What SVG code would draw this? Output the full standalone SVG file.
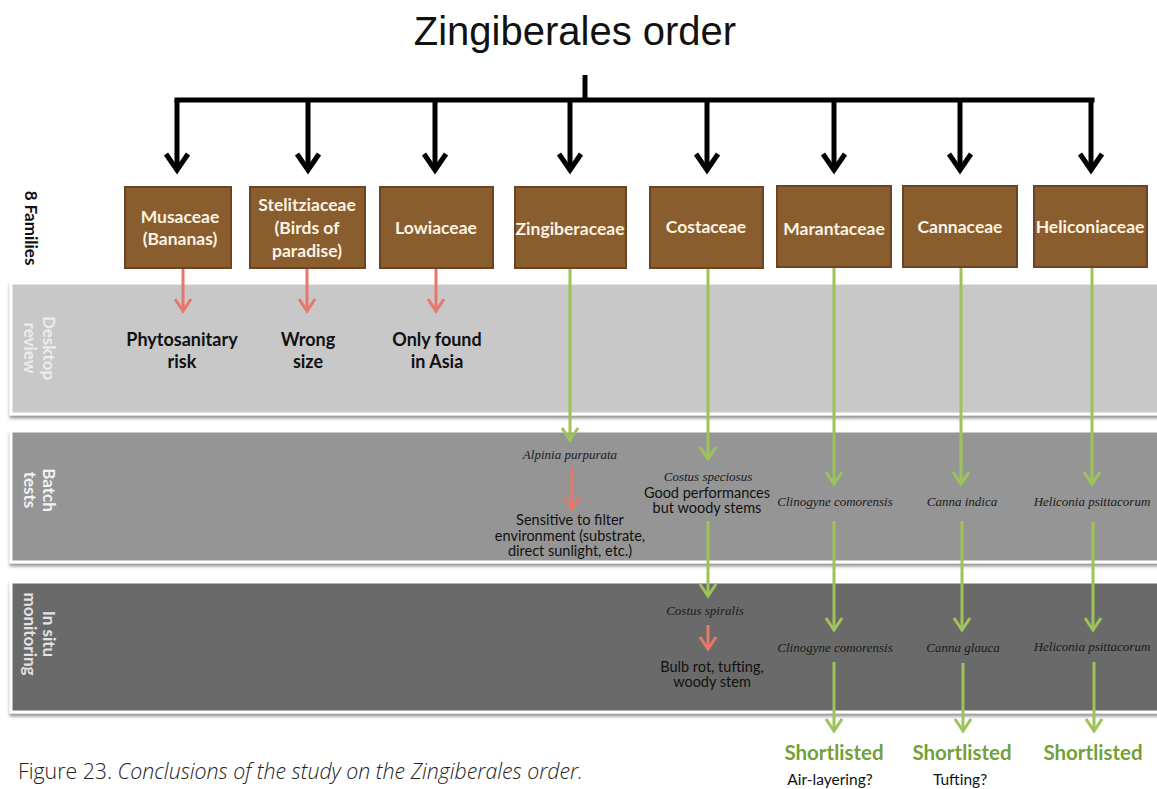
<svg xmlns="http://www.w3.org/2000/svg" width="1157" height="789" viewBox="0 0 1157 789">
<defs>
<style>
.title{font-family:"Liberation Sans",Arial,sans-serif;font-size:40px;fill:#111}
.box{fill:#8a5d2f;stroke:#6c4421;stroke-width:2}
.bt{font-family:Lato,"Open Sans",sans-serif;font-weight:700;font-size:17.5px;fill:#fbf4e4;text-anchor:middle}
.rej{font-family:Lato,"Open Sans",sans-serif;font-weight:700;font-size:18px;fill:#111;text-anchor:middle}
.sp{font-family:"Liberation Serif","Times New Roman",serif;font-style:italic;font-size:13px;fill:#1a1a1a;text-anchor:middle}
.desc{font-family:Lato,"Open Sans",sans-serif;font-size:14.5px;fill:#111;text-anchor:middle}
.band{stroke:#ffffff;stroke-width:3}
.bl{font-family:Lato,"Open Sans",sans-serif;font-weight:700;font-size:17px;text-anchor:middle}
.fam{font-family:Lato,"Open Sans",sans-serif;font-weight:700;font-size:17px;fill:#111;text-anchor:middle}
.blk{fill:none;stroke:#000;stroke-width:5}
.grn{fill:none;stroke:#9dc35a;stroke-width:3}
.red{fill:none;stroke:#e5786a;stroke-width:3}
.sl{font-family:Lato,"Open Sans",sans-serif;font-weight:700;font-size:20.5px;fill:#74a03a;text-anchor:middle}
.q{font-family:Lato,"Open Sans",sans-serif;font-size:15.5px;fill:#111;text-anchor:middle}
.cap{font-family:"Open Sans",Lato,sans-serif;font-weight:300;font-size:21.3px;fill:#222}
</style>
<marker id="ab" markerUnits="userSpaceOnUse" orient="auto" refX="0" refY="0" markerWidth="20" markerHeight="30" overflow="visible">
<polyline points="-16,-11 0,0 -16,11" fill="none" stroke="#000" stroke-width="5"/>
</marker>
<marker id="ag" markerUnits="userSpaceOnUse" orient="auto" refX="0" refY="0" markerWidth="20" markerHeight="20" overflow="visible">
<polyline points="-12,-8 0,0 -12,8" fill="none" stroke="#9dc35a" stroke-width="3"/>
</marker>
<marker id="ar" markerUnits="userSpaceOnUse" orient="auto" refX="0" refY="0" markerWidth="20" markerHeight="20" overflow="visible">
<polyline points="-12,-8 0,0 -12,8" fill="none" stroke="#e5786a" stroke-width="3"/>
</marker>
<filter id="sh" x="-5%" y="-10%" width="110%" height="130%">
<feDropShadow dx="0" dy="3" stdDeviation="1.5" flood-color="#555" flood-opacity="0.6"/>
</filter>
</defs>
<rect width="1157" height="789" fill="#ffffff"/>

<text class="title" x="575" y="45" text-anchor="middle">Zingiberales order</text>

<g id="bands">
<rect class="band" x="11" y="283" width="1150" height="131" fill="#c8c8c8" filter="url(#sh)"/>
<rect class="band" x="11" y="431" width="1150" height="131" fill="#959595" filter="url(#sh)"/>
<rect class="band" x="11" y="582" width="1150" height="130" fill="#6a6a6a" filter="url(#sh)"/>
<text class="fam" transform="translate(31,228) rotate(90)" y="6">8 Families</text>
<text class="bl" fill="#ececec" transform="translate(38,348) rotate(90)"><tspan x="0" y="-5">Desktop</tspan><tspan x="0" y="14">review</tspan></text>
<text class="bl" fill="#f2f2f2" transform="translate(38,490) rotate(90)"><tspan x="0" y="-5">Batch</tspan><tspan x="0" y="14">tests</tspan></text>
<text class="bl" fill="#e2e2e2" transform="translate(38,634) rotate(90)"><tspan x="0" y="-5">In situ</tspan><tspan x="0" y="14">monitoring</tspan></text>
</g>

<g id="connectors">
<polyline class="blk" points="585,75 585,100"/>
<polyline class="blk" points="177,100 1092,100" stroke-linecap="square"/>
<line class="blk" x1="177" y1="100" x2="177" y2="170" marker-end="url(#ab)"/>
<line class="blk" x1="308" y1="100" x2="308" y2="170" marker-end="url(#ab)"/>
<line class="blk" x1="435" y1="100" x2="435" y2="170" marker-end="url(#ab)"/>
<line class="blk" x1="570" y1="100" x2="570" y2="170" marker-end="url(#ab)"/>
<line class="blk" x1="707" y1="100" x2="707" y2="170" marker-end="url(#ab)"/>
<line class="blk" x1="834" y1="100" x2="834" y2="170" marker-end="url(#ab)"/>
<line class="blk" x1="960" y1="100" x2="960" y2="170" marker-end="url(#ab)"/>
<line class="blk" x1="1091" y1="100" x2="1091" y2="170" marker-end="url(#ab)"/>

<line class="red" x1="183" y1="268" x2="183" y2="311" marker-end="url(#ar)"/>
<line class="red" x1="307" y1="268" x2="307" y2="311" marker-end="url(#ar)"/>
<line class="red" x1="436" y1="268" x2="436" y2="311" marker-end="url(#ar)"/>
<line class="red" x1="572" y1="468" x2="572" y2="509" marker-end="url(#ar)"/>
<line class="red" x1="708" y1="625" x2="708" y2="649" marker-end="url(#ar)"/>

<line class="grn" x1="570" y1="268" x2="570" y2="440" marker-end="url(#ag)"/>
<line class="grn" x1="708" y1="268" x2="708" y2="459" marker-end="url(#ag)"/>
<line class="grn" x1="708" y1="521" x2="708" y2="596" marker-end="url(#ag)"/>
<line class="grn" x1="834" y1="268" x2="834" y2="484" marker-end="url(#ag)"/>
<line class="grn" x1="834" y1="521" x2="834" y2="630" marker-end="url(#ag)"/>
<line class="grn" x1="834" y1="662" x2="834" y2="731" marker-end="url(#ag)"/>
<line class="grn" x1="961" y1="268" x2="961" y2="484" marker-end="url(#ag)"/>
<line class="grn" x1="962" y1="521" x2="962" y2="630" marker-end="url(#ag)"/>
<line class="grn" x1="963" y1="663" x2="963" y2="731" marker-end="url(#ag)"/>
<line class="grn" x1="1092" y1="268" x2="1092" y2="484" marker-end="url(#ag)"/>
<line class="grn" x1="1093" y1="522" x2="1093" y2="630" marker-end="url(#ag)"/>
<line class="grn" x1="1094" y1="662" x2="1094" y2="731" marker-end="url(#ag)"/>
</g>

<g id="musaceae"><rect class="box" x="125" y="187" width="106" height="81"/><text class="bt" x="178"><tspan x="180" y="223">Musaceae</tspan><tspan x="180" y="245">(Bananas)</tspan></text></g>
<g id="stelitziaceae"><rect class="box" x="250" y="187" width="115" height="81"/><text class="bt"><tspan x="307" y="211">Stelitziaceae</tspan><tspan x="307" y="234">(Birds of</tspan><tspan x="307" y="257">paradise)</tspan></text></g>
<g id="lowiaceae"><rect class="box" x="380" y="187" width="113" height="81"/><text class="bt" x="436" y="234">Lowiaceae</text></g>
<g id="zingiberaceae"><rect class="box" x="515" y="187" width="111" height="81"/><text class="bt" x="570" y="235">Zingiberaceae</text></g>
<g id="costaceae"><rect class="box" x="650" y="187" width="113" height="81"/><text class="bt" x="706" y="233">Costaceae</text></g>
<g id="marantaceae"><rect class="box" x="777" y="186" width="114" height="81"/><text class="bt" x="834" y="235">Marantaceae</text></g>
<g id="cannaceae"><rect class="box" x="903" y="186" width="114" height="81"/><text class="bt" x="960" y="233">Cannaceae</text></g>
<g id="heliconiaceae"><rect class="box" x="1034" y="186" width="113" height="81"/><text class="bt" x="1090" y="233">Heliconiaceae</text></g>

<g id="desktop-results">
<text class="rej"><tspan x="182" y="346">Phytosanitary</tspan><tspan x="182" y="368">risk</tspan></text>
<text class="rej"><tspan x="308" y="346">Wrong</tspan><tspan x="308" y="368">size</tspan></text>
<text class="rej"><tspan x="437" y="346">Only found</tspan><tspan x="437" y="368">in Asia</tspan></text>
</g>

<g id="zingiberaceae-path">
<text class="sp" x="570" y="459">Alpinia purpurata</text>
<text class="desc"><tspan x="570" y="525">Sensitive to filter</tspan><tspan x="570" y="541">environment (substrate,</tspan><tspan x="570" y="556">direct sunlight, etc.)</tspan></text>
</g>
<g id="costaceae-path">
<text class="sp" x="708" y="481">Costus speciosus</text>
<text class="desc"><tspan x="707" y="498">Good performances</tspan><tspan x="707" y="513">but woody stems</tspan></text>
<text class="sp" x="705" y="615">Costus spiralis</text>
<text class="desc"><tspan x="712" y="672">Bulb rot, tufting,</tspan><tspan x="712" y="687">woody stem</tspan></text>
</g>
<g id="marantaceae-path">
<text class="sp" x="835" y="506">Clinogyne comorensis</text>
<text class="sp" x="835" y="652">Clinogyne comorensis</text>
<text class="sl" x="834" y="760">Shortlisted</text>
<text class="q" x="830" y="785">Air-layering?</text>
</g>
<g id="cannaceae-path">
<text class="sp" x="962" y="506">Canna indica</text>
<text class="sp" x="963" y="652">Canna glauca</text>
<text class="sl" x="962" y="760">Shortlisted</text>
<text class="q" x="960" y="785">Tufting?</text>
</g>
<g id="heliconiaceae-path">
<text class="sp" x="1092" y="506">Heliconia psittacorum</text>
<text class="sp" x="1092" y="651">Heliconia psittacorum</text>
<text class="sl" x="1093" y="760">Shortlisted</text>
</g>

<text class="cap" x="18" y="779">Figure 23. <tspan font-style="italic">Conclusions of the study on the Zingiberales order.</tspan></text>
</svg>
